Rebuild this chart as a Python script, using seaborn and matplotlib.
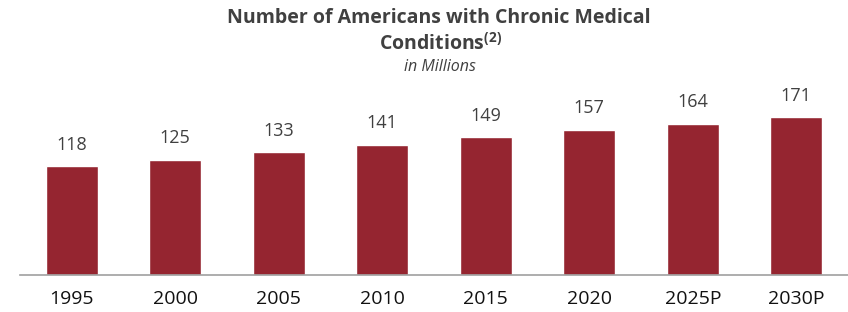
import matplotlib
matplotlib.use("Agg")
import matplotlib.pyplot as plt
import seaborn as sns
import pandas as pd

# data
years = ["1995", "2000", "2005", "2010", "2015", "2020", "2025P", "2030P"]
americans_mm = [118, 125, 133, 141, 149, 157, 164, 171]

sns.set_style("white")
plt.rcParams["font.family"] = ["Open Sans", "DejaVu Sans"]
plt.rcParams["mathtext.fontset"] = "custom"
plt.rcParams["mathtext.rm"] = "Open Sans"
plt.rcParams["mathtext.bf"] = "Open Sans:bold"

df = pd.DataFrame({"year": years, "value": americans_mm})

fig = plt.figure(figsize=(8.48, 3.12), dpi=100)
ax = fig.add_axes([20 / 848, 37 / 312, 828 / 848, 175.5 / 312])

sns.barplot(data=df, x="year", y="value", color="#952530", width=0.5,
            saturation=1, ax=ax)

ax.set_ylim(0, 190)
ax.set_xlim(-0.5, 7.5)
ax.bar_label(ax.containers[0], padding=9, fontsize=13, color="#404040")

sns.despine(ax=ax, left=True)
ax.spines["bottom"].set_color("#A0A0A0")
ax.spines["bottom"].set_linewidth(1.2)
ax.set_yticks([])
ax.set_xlabel("")
ax.set_ylabel("")
ax.tick_params(axis="x", length=0, pad=11, labelsize=14, labelcolor="#111111")

# titles
fig.text(0.517, 0.942, "Number of Americans with Chronic Medical",
         ha="center", va="center", fontsize=14, fontweight="bold", color="#404040")
fig.text(0.52, 0.858, r"Conditions$^{\mathbf{(2)}}$",
         ha="center", va="center", fontsize=14, fontweight="bold", color="#404040")
fig.text(0.519, 0.786, "in Millions", ha="center", va="center",
         fontsize=11.5, style="italic", color="#404040")

fig.savefig("out.png", dpi=100)
